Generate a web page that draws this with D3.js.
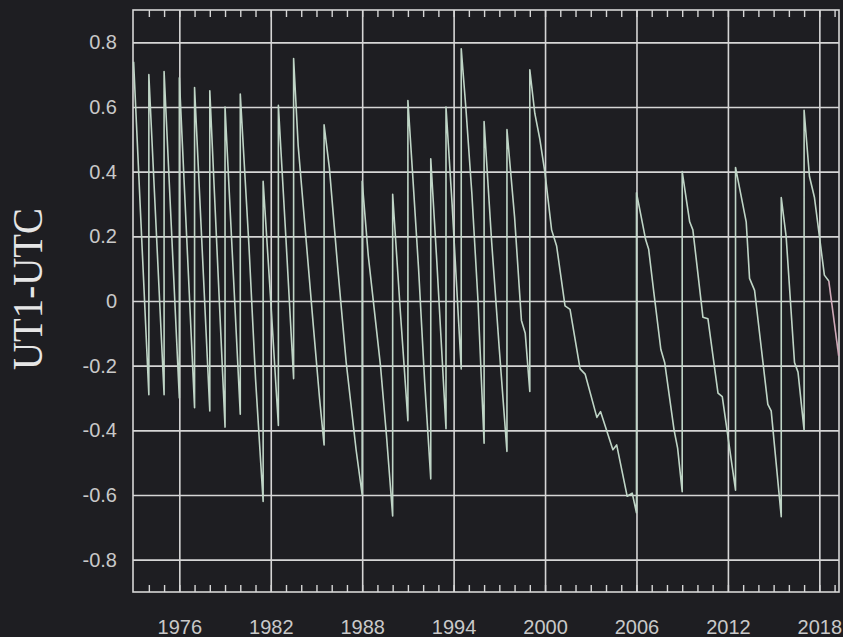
<!DOCTYPE html>
<html>
<head>
<meta charset="utf-8">
<script src="https://cdn.jsdelivr.net/npm/d3@7"></script>
<style>
  html, body { margin: 0; padding: 0; background: #1e1e22; }
  #graphic { width: 843px; height: 637px; }
</style>
</head>
<body>
<div id="graphic"></div>
<script>
// decimal years and UT1-UTC (s); leap seconds are the repeated years
var years = [1973.0,
    1974.0, 1974.0, 1975.0, 1975.0, 1976.0, 1976.0, 1977.0, 1977.0,
    1978.0, 1978.0, 1979.0, 1979.0, 1980.0, 1980.0,
    1980.57, 1981.0, 1981.5, 1981.5, 1982.0, 1982.5, 1982.5, 1983.0, 1983.5, 1983.5,
    1983.8, 1984.3, 1984.8, 1985.2, 1985.5, 1985.5,
    1985.85, 1986.4, 1986.95, 1987.6, 1988.0, 1988.0,
    1988.4, 1988.8, 1989.2, 1989.6, 1990.0, 1990.0,
    1990.5, 1991.0, 1991.0,
    1991.3, 1991.7, 1992.1, 1992.5, 1992.5,
    1992.9, 1993.5, 1993.5, 1993.9, 1994.5, 1994.5,
    1994.8, 1995.2, 1995.6, 1996.0, 1996.0,
    1996.5, 1997.0, 1997.5, 1997.5,
    1998.0, 1998.45, 1998.7, 1999.0, 1999.0,
    1999.33, 1999.66, 2000.0, 2000.43, 2000.76, 2001.31, 2001.64, 2002.3, 2002.63,
    2003.4, 2003.64, 2004.45, 2004.7, 2005.39, 2005.72, 2006.0, 2006.0,
    2006.6, 2006.8, 2007.14, 2007.6, 2007.85, 2008.47, 2008.7, 2009.0, 2009.0,
    2009.49, 2009.7, 2010.36, 2010.69, 2011.35, 2011.63, 2012.5, 2012.5,
    2013.2, 2013.42, 2013.75, 2014.62, 2014.84, 2015.5, 2015.5,
    2015.82, 2016.37, 2016.6, 2017.0, 2017.0,
    2017.35, 2017.68, 2018.33, 2018.62];
var ut1utc = [0.74,
    -0.29, 0.70, -0.29, 0.71, -0.30, 0.69, -0.33, 0.66,
    -0.34, 0.65, -0.39, 0.60, -0.35, 0.64,
    0.17, -0.24, -0.62, 0.37, 0.00, -0.385, 0.605, 0.19, -0.24, 0.75,
    0.48, 0.20, -0.08, -0.30, -0.445, 0.545,
    0.41, 0.10, -0.19, -0.46, -0.60, 0.37,
    0.14, -0.03, -0.20, -0.42, -0.665, 0.33,
    -0.03, -0.37, 0.62,
    0.40, 0.10, -0.25, -0.55, 0.44,
    0.12, -0.395, 0.60, 0.30, -0.21, 0.78,
    0.60, 0.33, 0.00, -0.44, 0.555,
    0.18, -0.15, -0.465, 0.53,
    0.26, -0.06, -0.10, -0.28, 0.715,
    0.58, 0.50, 0.395, 0.22, 0.17, -0.015, -0.026, -0.21, -0.226,
    -0.36, -0.342, -0.46, -0.445, -0.604, -0.594, -0.655, 0.335,
    0.19, 0.16, 0.026, -0.15, -0.19, -0.40, -0.455, -0.59, 0.40,
    0.245, 0.22, -0.05, -0.055, -0.285, -0.296, -0.585, 0.413,
    0.245, 0.07, 0.033, -0.32, -0.34, -0.667, 0.32,
    0.20, -0.19, -0.22, -0.40, 0.59,
    0.386, 0.32, 0.08, 0.062];

// the short pinkish tail at the right end
var tailYears = [2018.62, 2019.27];
var tailValues = [0.062, -0.17];

var xTicks = [1976, 1982, 1988, 1994, 2000, 2006, 2012, 2018];
var yTicks = [-0.8, -0.6, -0.4, -0.2, 0, 0.2, 0.4, 0.6, 0.8];
var minorYears = d3.range(1974, 2020);

drawChart();

function drawChart() {

    var svgWidth = 843;
    var svgHeight = 637;
    // plot frame edges
    var plotLeft = 133, plotTop = 10, plotRight = 839, plotBottom = 592;

    var svg = d3.select("#graphic")
        .append("svg")
        .attr("width", svgWidth)
        .attr("height", svgHeight);

    svg.append("rect")
        .attr("width", svgWidth)
        .attr("height", svgHeight)
        .attr("fill", "#1e1e22");

    var x = d3.scaleLinear().domain([1972.96, 2019.29]).range([plotLeft, plotRight]);
    var y = d3.scaleLinear().domain([-0.9, 0.9]).range([plotBottom, plotTop]);

    var gridColor = "#d6d6d6";

    // grid lines (horizontal)
    svg.append("g")
        .attr("transform", "translate(" + plotLeft + ",0)")
        .call(d3.axisLeft(y).tickValues(yTicks).tickSize(-(plotRight - plotLeft)).tickFormat(""))
        .call(function(g) { g.select(".domain").remove(); })
        .selectAll("line")
        .attr("stroke", gridColor)
        .attr("stroke-width", 1.6);

    // grid lines (vertical)
    svg.append("g")
        .attr("transform", "translate(0," + plotBottom + ")")
        .call(d3.axisBottom(x).tickValues(xTicks).tickSize(-(plotBottom - plotTop)).tickFormat(""))
        .call(function(g) { g.select(".domain").remove(); })
        .selectAll("line")
        .attr("stroke", gridColor)
        .attr("stroke-width", 1.6);

    // yearly minor ticks, top and bottom inside the frame
    svg.append("g")
        .attr("transform", "translate(0," + plotTop + ")")
        .call(d3.axisBottom(x).tickValues(minorYears).tickSize(7).tickFormat(""))
        .call(function(g) { g.select(".domain").remove(); })
        .selectAll("line")
        .attr("stroke", gridColor)
        .attr("stroke-width", 1.4);

    svg.append("g")
        .attr("transform", "translate(0," + plotBottom + ")")
        .call(d3.axisTop(x).tickValues(minorYears).tickSize(7).tickFormat(""))
        .call(function(g) { g.select(".domain").remove(); })
        .selectAll("line")
        .attr("stroke", gridColor)
        .attr("stroke-width", 1.4);

    // frame
    svg.append("rect")
        .attr("x", plotLeft)
        .attr("y", plotTop)
        .attr("width", plotRight - plotLeft)
        .attr("height", plotBottom - plotTop)
        .attr("fill", "none")
        .attr("stroke", gridColor)
        .attr("stroke-width", 1.6);

    // tick labels
    var xAxis = svg.append("g")
        .attr("transform", "translate(0," + plotBottom + ")")
        .call(d3.axisBottom(x).tickValues(xTicks).tickSize(0).tickPadding(28).tickFormat(d3.format("d")));
    xAxis.select(".domain").remove();
    xAxis.selectAll("text")
        .attr("fill", "#c9c9c9")
        .style("font-family", "'Liberation Sans', Arial, sans-serif")
        .style("font-size", "20px");

    // plain hyphen for the minus sign, like the original
    var yAxis = svg.append("g")
        .attr("transform", "translate(" + plotLeft + ",0)")
        .call(d3.axisLeft(y).tickValues(yTicks).tickSize(0).tickPadding(16).tickFormat(function(d) {
            return d === 0 ? "0" : d.toFixed(1);
        }));
    yAxis.select(".domain").remove();
    yAxis.selectAll("text")
        .attr("fill", "#c9c9c9")
        .style("font-family", "'Liberation Sans', Arial, sans-serif")
        .style("font-size", "20px");

    // the series
    var line = d3.line()
        .x(function(d) { return x(d[0]); })
        .y(function(d) { return y(d[1]); });

    svg.append("path")
        .datum(d3.zip(years, ut1utc))
        .attr("d", line)
        .attr("fill", "none")
        .attr("stroke", "#bfd5c6")
        .attr("stroke-width", 1.6)
        .attr("stroke-linejoin", "round");

    svg.append("path")
        .datum(d3.zip(tailYears, tailValues))
        .attr("d", line)
        .attr("fill", "none")
        .attr("stroke", "#cfa9b8")
        .attr("stroke-width", 1.6);

    // axis title
    svg.append("text")
        .attr("transform", "translate(42,289) rotate(-90)")
        .attr("text-anchor", "middle")
        .attr("fill", "#e6e6e6")
        .attr("textLength", 162)
        .attr("lengthAdjust", "spacingAndGlyphs")
        .style("font-family", "'Liberation Serif', 'Times New Roman', serif")
        .style("font-size", "42px")
        .text("UT1-UTC");
}
</script>
</body>
</html>
